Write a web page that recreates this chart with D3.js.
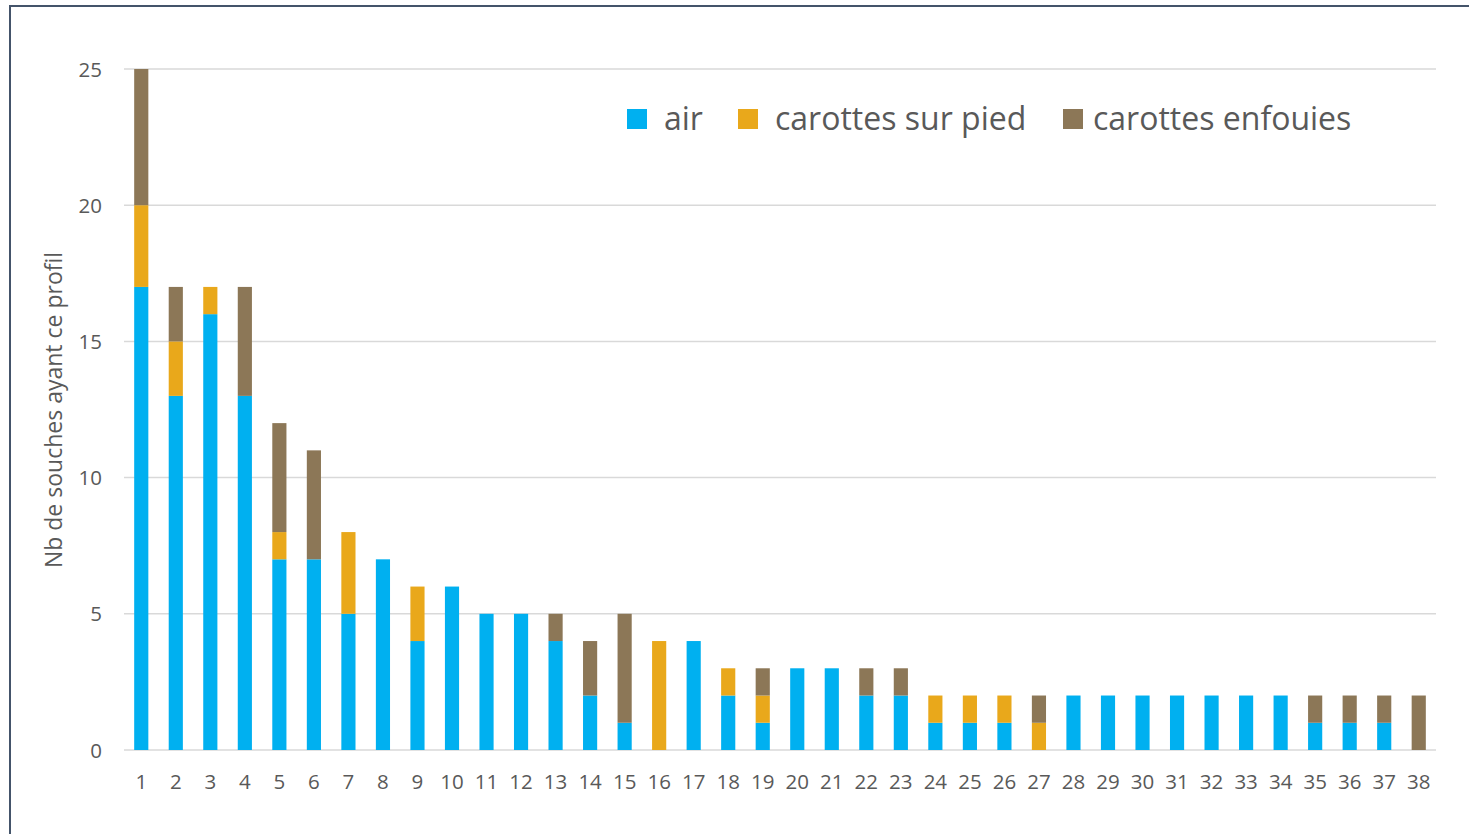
<!DOCTYPE html>
<html>
<head>
<meta charset="utf-8">
<script src="https://cdn.jsdelivr.net/npm/d3@7"></script>
<style>
  html, body { margin: 0; padding: 0; background: #fff; }
  svg { display: block; }
</style>
</head>
<body>
<svg id="chart" width="1469" height="834"></svg>
<script>
// Profils (1..38) and number of strains per source
const categories = d3.range(1, 39).map(String);
const air =      [17,13,16,13,7,7,5,7,4,6,5,5,4,2,1,0,4,2,1,3,3,2,2,1,1,1,0,2,2,2,2,2,2,2,1,1,1,0];
const surPied =  [3,2,1,0,1,0,3,0,2,0,0,0,0,0,0,4,0,1,1,0,0,0,0,1,1,1,1,0,0,0,0,0,0,0,0,0,0,0];
const enfouies = [5,2,0,4,4,4,0,0,0,0,0,0,1,2,4,0,0,0,1,0,0,1,1,0,0,0,1,0,0,0,0,0,0,0,1,1,1,2];
const yTicks = [0, 5, 10, 15, 20, 25];
const seriesNames = ["air", "carottes sur pied", "carottes enfouies"];
const seriesColors = ["#00B0F0", "#E9A81B", "#8C7757"];

const svg = d3.select("#chart");
const font = "'Open Sans', 'Liberation Sans', sans-serif";
const textColor = "#595959";

// Outer frame
svg.append("rect")
  .attr("x", 10).attr("y", 6).attr("width", 1480).attr("height", 860)
  .attr("fill", "none").attr("stroke", "#44546A").attr("stroke-width", 2);

const plotLeft = 124, plotRight = 1436, plotTop = 69, plotBottom = 750;

const x = d3.scaleBand().domain(categories).range([plotLeft, plotRight]).paddingInner(0.59).paddingOuter(0.295);
const y = d3.scaleLinear().domain([0, 25]).range([plotBottom, plotTop]);

// Horizontal gridlines
svg.append("g").selectAll("line").data(yTicks).join("line")
  .attr("x1", plotLeft).attr("x2", plotRight)
  .attr("y1", d => y(d)).attr("y2", d => y(d))
  .attr("stroke", "#D9D9D9").attr("stroke-width", 1.5);

// Y axis labels
const yAxis = d3.axisLeft(y).tickValues(yTicks).tickSize(0).tickPadding(0);
const gy = svg.append("g").attr("transform", `translate(102,0)`).call(yAxis);
gy.select(".domain").remove();
gy.selectAll("text").attr("font-family", font).attr("font-size", 20.5).attr("fill", textColor).attr("dy", "0.35em");

// Stacked bars
const rows = categories.map((c, i) => ({ cat: c, air: air[i], pied: surPied[i], enf: enfouies[i] }));
const stack = d3.stack().keys(["air", "pied", "enf"]);
const layers = stack(rows);

svg.append("g").selectAll("g").data(layers).join("g")
  .attr("fill", (d, i) => seriesColors[i])
  .selectAll("rect").data(d => d).join("rect")
  .attr("x", d => x(d.data.cat))
  .attr("width", x.bandwidth())
  .attr("y", d => y(d[1]))
  .attr("height", d => y(d[0]) - y(d[1]));

// X axis labels
const xAxis = d3.axisBottom(x).tickSize(0).tickPadding(0);
const gx = svg.append("g").attr("transform", `translate(0,${plotBottom + 24})`).call(xAxis);
gx.select(".domain").remove();
gx.selectAll("text").attr("font-family", font).attr("font-size", 20.5).attr("fill", textColor).attr("dy", "0.71em");

// Y axis title
svg.append("text")
  .attr("transform", `translate(62,410) rotate(-90)`)
  .attr("text-anchor", "middle")
  .attr("font-family", font).attr("font-size", 23).attr("fill", textColor)
  .text("Nb de souches ayant ce profil");

// Legend
const legendItems = [
  { name: seriesNames[0], sx: 627, tx: 664 },
  { name: seriesNames[1], sx: 738, tx: 775 },
  { name: seriesNames[2], sx: 1063, tx: 1093 }
];
const lg = svg.append("g");
legendItems.forEach((it, i) => {
  lg.append("rect").attr("x", it.sx).attr("y", 109).attr("width", 20).attr("height", 20).attr("fill", seriesColors[i]);
  lg.append("text").attr("x", it.tx).attr("y", 130)
    .attr("font-family", font).attr("font-size", 32).attr("fill", textColor)
    .text(it.name);
});
</script>
</body>
</html>
